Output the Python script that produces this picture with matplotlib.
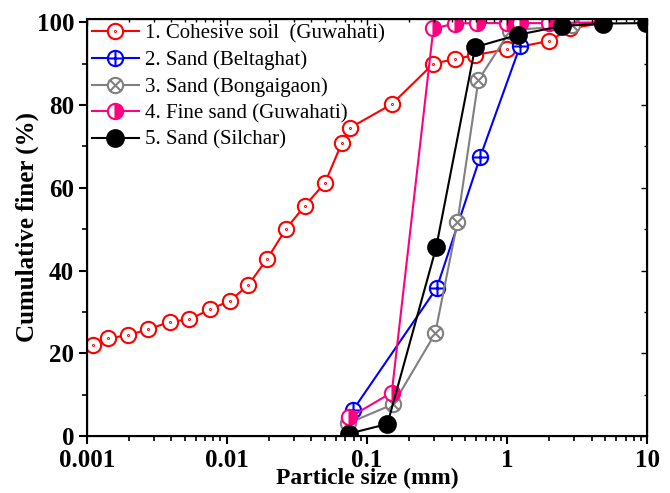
import numpy as np
import matplotlib
matplotlib.use("Agg")
import matplotlib.pyplot as plt
from matplotlib.path import Path
from matplotlib.ticker import MultipleLocator, LogLocator, FixedFormatter, NullFormatter

plt.rcParams['font.family'] = ['Liberation Serif', 'DejaVu Serif']

# particle size (mm) vs cumulative finer (%)
x_cohesive = [0.00111, 0.00143, 0.00198, 0.00275, 0.00393, 0.0054, 0.00758, 0.01053, 0.01422,
              0.01945, 0.02643, 0.0361, 0.0501, 0.066, 0.0757, 0.150, 0.297, 0.421, 0.590,
              1.0, 1.99, 2.81, 4.75]
y_cohesive = [22.0, 23.6, 24.4, 25.8, 27.6, 28.2, 30.6, 32.7, 36.5, 42.9, 50.1, 55.7, 61.2,
              70.8, 74.5, 80.2, 90.0, 91.1, 92.1, 93.5, 95.5, 98.5, 99.8]

x_beltaghat = [0.0798, 0.314, 0.640, 1.235]
y_beltaghat = [6.4, 35.8, 67.4, 94.3]

x_bongaigaon = [0.0736, 0.154, 0.306, 0.441, 0.622, 1.05, 2.88, 4.75]
y_bongaigaon = [3.1, 7.7, 24.8, 51.7, 86.0, 98.0, 99.3, 100.0]

x_finesand = [0.0748, 0.150, 0.297, 0.425, 0.606, 1.0, 1.235, 2.0, 4.75]
y_finesand = [4.5, 10.5, 98.5, 99.7, 99.8, 99.8, 99.8, 99.8, 100.0]

x_silchar = [0.0748, 0.1396, 0.311, 0.590, 1.20, 2.45, 4.85, 9.8]
y_silchar = [0.6, 2.9, 45.6, 94.0, 97.0, 99.1, 99.7, 99.8]

labels = ['1. Cohesive soil  (Guwahati)', '2. Sand (Beltaghat)', '3. Sand (Bongaigaon)',
          '4. Fine sand (Guwahati)', '5. Sand (Silchar)']

# Origin-like markers
circ = Path.unit_circle()
dot_marker = Path.make_compound_path(circ, Path(circ.vertices * 0.06, circ.codes))
plus_marker = Path.make_compound_path(
    circ,
    Path([[-1, 0], [1, 0]], [Path.MOVETO, Path.LINETO]),
    Path([[0, -1], [0, 1]], [Path.MOVETO, Path.LINETO]))
d = 0.7071
cross_marker = Path.make_compound_path(
    circ,
    Path([[-d, -d], [d, d]], [Path.MOVETO, Path.LINETO]),
    Path([[-d, d], [d, -d]], [Path.MOVETO, Path.LINETO]))

fig = plt.figure(figsize=(6.7, 4.93), dpi=100)
ax = fig.add_axes([0.1294, 0.1156, 0.837, 0.8459])

lw = 1.5
ms = 11
ax.plot(x_cohesive, y_cohesive, color='#FF0000', lw=lw, marker=dot_marker, ms=ms,
        mfc='white', mec='#FF0000', mew=lw, label=labels[0])
ax.plot(x_beltaghat, y_beltaghat, color='#0000FF', lw=lw, marker=plus_marker, ms=ms,
        mfc='white', mec='#0000FF', mew=lw, label=labels[1])
ax.plot(x_bongaigaon, y_bongaigaon, color='#808080', lw=lw, marker=cross_marker, ms=ms,
        mfc='white', mec='#808080', mew=lw, label=labels[2])
ax.plot(x_finesand, y_finesand, color='#FF0080', lw=lw, marker='o', ms=ms, fillstyle='right',
        mfc='#FF0080', mfcalt='white', mec='#FF0080', mew=lw, label=labels[3])
ax.plot(x_silchar, y_silchar, color='black', lw=lw, marker='o', ms=ms + 1,
        mfc='black', mec='black', mew=lw, label=labels[4])

ax.set_xscale('log')
ax.set_xlim(0.001, 10)
ax.set_ylim(0, 100.8)
ax.set_xticks([0.001, 0.01, 0.1, 1, 10])
ax.xaxis.set_major_formatter(FixedFormatter(['0.001', '0.01', '0.1', '1', '10']))
ax.xaxis.set_minor_locator(LogLocator(base=10, subs=np.arange(2, 10)))
ax.xaxis.set_minor_formatter(NullFormatter())
ax.yaxis.set_major_locator(MultipleLocator(20))
ax.yaxis.set_minor_locator(MultipleLocator(10))

for sp in ax.spines.values():
    sp.set_linewidth(1.5)
ax.tick_params(which='major', direction='out', length=5.5, width=1.5, labelsize=18)
ax.tick_params(which='minor', direction='out', length=3.5, width=1.2)
for lab in ax.get_xticklabels() + ax.get_yticklabels():
    lab.set_fontweight('bold')

# mirrored ticks on top and right, pointing in
axt = ax.twiny()
axt.set_xscale('log')
axt.set_xlim(ax.get_xlim())
axt.xaxis.set_minor_locator(LogLocator(base=10, subs=np.arange(2, 10)))
axt.tick_params(axis='x', which='both', direction='in', labeltop=False, width=1.0)
axt.tick_params(axis='x', which='major', length=4)
axt.tick_params(axis='x', which='minor', length=2.5)
axr = ax.twinx()
axr.set_ylim(ax.get_ylim())
axr.yaxis.set_major_locator(MultipleLocator(20))
axr.yaxis.set_minor_locator(MultipleLocator(10))
axr.tick_params(axis='y', which='both', direction='in', labelright=False, width=1.0)
axr.tick_params(axis='y', which='major', length=4)
axr.tick_params(axis='y', which='minor', length=2.5)

ax.set_xlabel('Particle size (mm)', fontsize=17, fontweight='bold', labelpad=-2.5)
ax.set_ylabel('Cumulative finer (%)', fontsize=18, fontweight='bold', labelpad=-2)

ax.legend(loc='upper left', frameon=False, fontsize=15, handlelength=2.25,
          handletextpad=0.3, labelspacing=0.33, borderaxespad=0.05, borderpad=0.2)

fig.savefig('out.png', dpi=100)
